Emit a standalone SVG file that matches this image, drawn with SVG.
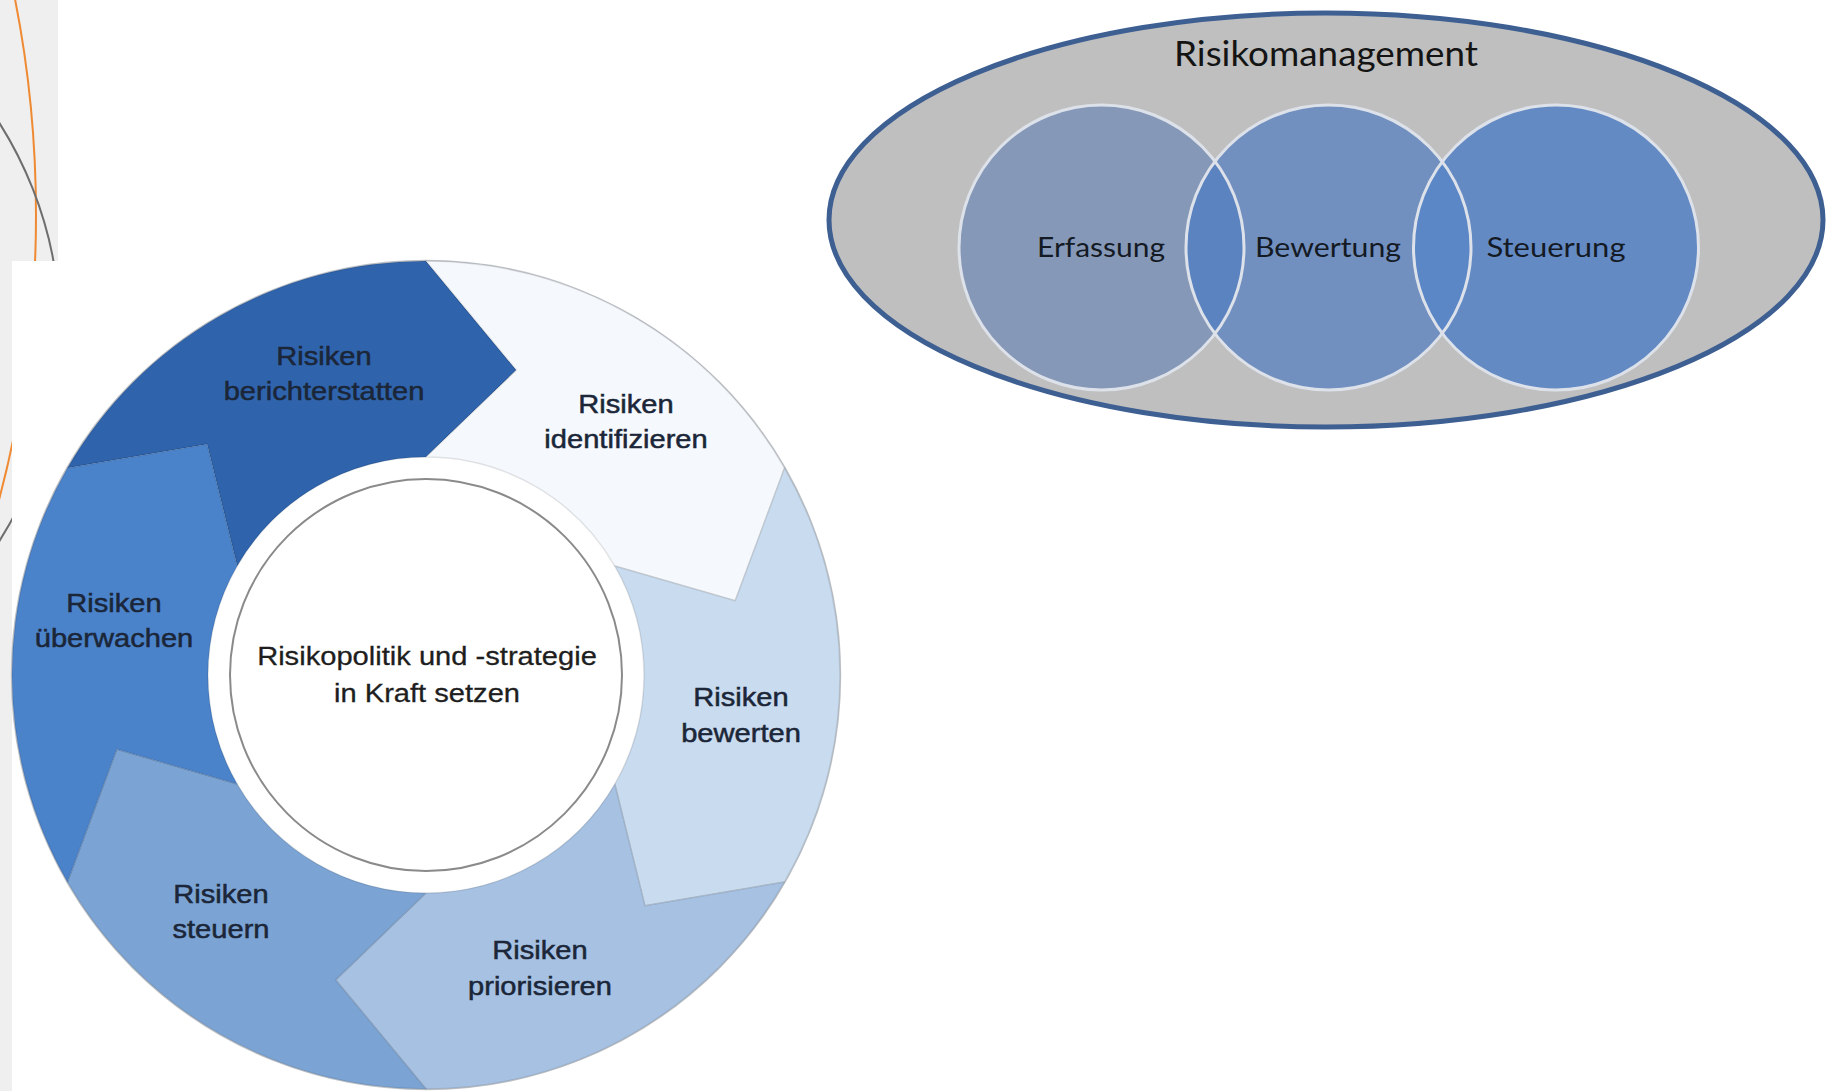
<svg xmlns="http://www.w3.org/2000/svg" width="1827" height="1091" viewBox="0 0 1827 1091">
  <style>
    .seg { stroke: rgba(0,0,0,0.10); stroke-width: 1.5; stroke-linejoin: round; }
    .lbl { font-family: "Liberation Sans", Arial, sans-serif; font-size: 26px; fill: #1b2638; stroke: #1b2638; stroke-width: 0.5; text-anchor: middle; }
    .ctr { font-family: "Liberation Sans", Arial, sans-serif; font-size: 26px; fill: #1e1e1e; stroke: #1e1e1e; stroke-width: 0.3; text-anchor: middle; }
    .vlbl { font-family: Lato, "Open Sans", sans-serif; font-size: 27px; fill: #141a24; text-anchor: middle; }
    .vtitle { font-family: Lato, "Open Sans", sans-serif; font-size: 34px; fill: #141414; text-anchor: middle; }
    .vcirc { stroke: #dde2ea; stroke-width: 3; }
  </style>
  <defs>
    <clipPath id="clipE"><circle cx="1101.5" cy="247.5" r="142.5"/></clipPath>
    <clipPath id="clipS"><circle cx="1556" cy="247.5" r="142.5"/></clipPath>
  </defs>

  <!-- background -->
  <rect x="0" y="0" width="1827" height="1091" fill="#ffffff"/>
  <rect x="0" y="0" width="58" height="1091" fill="#efefef"/>
  <circle cx="-1075" cy="215" r="1111" fill="none" stroke="#ef8a33" stroke-width="2"/>
  <circle cx="-330" cy="332" r="390" fill="none" stroke="#6e6e6e" stroke-width="2"/>
  <rect x="12" y="261" width="860" height="830" fill="#ffffff"/>

  <!-- cycle diagram -->
  <g id="cycle">
    <circle cx="426" cy="675" r="414" fill="#ffffff" stroke="#c6cacf" stroke-width="2.5"/>
    <g id="node-berichterstatten">
      <path class="seg" fill="#2f64ad" d="M 67.46,468 A 414 414 0 0 1 426,261 L 516.32,370.10 L 426,457 A 218 218 0 0 0 237.21,566 L 207.10,444.33 Z"/>
      <text class="lbl" transform="translate(324,0) scale(1.12,1)"><tspan x="0" y="365">Risiken</tspan><tspan x="0" y="400">berichterstatten</tspan></text>
    </g>
    <g id="node-identifizieren">
      <path class="seg" fill="#f5f8fc" d="M 426,261 A 414 414 0 0 1 784.54,468 L 735.21,600.76 L 614.79,566 A 218 218 0 0 0 426,457 L 516.32,370.10 Z"/>
      <text class="lbl" transform="translate(626,0) scale(1.12,1)"><tspan x="0" y="413">Risiken</tspan><tspan x="0" y="448">identifizieren</tspan></text>
    </g>
    <g id="node-bewerten">
      <path class="seg" fill="#c9dbee" d="M 784.54,468 A 414 414 0 0 1 784.54,882 L 644.90,905.67 L 614.79,784 A 218 218 0 0 0 614.79,566 L 735.21,600.76 Z"/>
      <text class="lbl" transform="translate(741,0) scale(1.12,1)"><tspan x="0" y="706">Risiken</tspan><tspan x="0" y="742">bewerten</tspan></text>
    </g>
    <g id="node-priorisieren">
      <path class="seg" fill="#a6c1e2" d="M 784.54,882 A 414 414 0 0 1 426,1089 L 335.68,979.90 L 426,893 A 218 218 0 0 0 614.79,784 L 644.90,905.67 Z"/>
      <text class="lbl" transform="translate(540,0) scale(1.12,1)"><tspan x="0" y="959">Risiken</tspan><tspan x="0" y="995">priorisieren</tspan></text>
    </g>
    <g id="node-steuern">
      <path class="seg" fill="#7ba4d4" d="M 426,1089 A 414 414 0 0 1 67.46,882 L 116.79,749.24 L 237.21,784 A 218 218 0 0 0 426,893 L 335.68,979.90 Z"/>
      <text class="lbl" transform="translate(221,0) scale(1.12,1)"><tspan x="0" y="903">Risiken</tspan><tspan x="0" y="938">steuern</tspan></text>
    </g>
    <g id="node-ueberwachen">
      <path class="seg" fill="#4b83cb" d="M 67.46,882 A 414 414 0 0 1 67.46,468 L 207.10,444.33 L 237.21,566 A 218 218 0 0 0 237.21,784 L 116.79,749.24 Z"/>
      <text class="lbl" transform="translate(114,0) scale(1.12,1)"><tspan x="0" y="612">Risiken</tspan><tspan x="0" y="647">überwachen</tspan></text>
    </g>
    <g id="node-center">
      <circle cx="426" cy="675" r="196" fill="#ffffff" stroke="#8a8a8a" stroke-width="2"/>
      <text class="ctr" transform="translate(427,0) scale(1.12,1)"><tspan x="0" y="665">Risikopolitik und -strategie</tspan><tspan x="0" y="702">in Kraft setzen</tspan></text>
    </g>
  </g>

  <!-- Venn diagram -->
  <g id="node-risikomanagement">
    <ellipse cx="1326" cy="220" rx="497" ry="207" fill="#bfbfbf" stroke="#3e5f92" stroke-width="5"/>
    <text class="vtitle" x="1326" y="66" textLength="304" lengthAdjust="spacingAndGlyphs">Risikomanagement</text>
  </g>
  <g id="node-erfassung">
    <circle cx="1101.5" cy="247.5" r="142.5" fill="#8698b7"/>
  </g>
  <g id="node-bewertung">
    <circle cx="1328.5" cy="247.5" r="142.5" fill="#7290bf"/>
    <circle cx="1328.5" cy="247.5" r="142.5" fill="#5b83c0" clip-path="url(#clipE)"/>
  </g>
  <g id="node-steuerung">
    <circle cx="1556" cy="247.5" r="142.5" fill="#648ac4"/>
    <circle cx="1328.5" cy="247.5" r="142.5" fill="#5b87c6" clip-path="url(#clipS)"/>
  </g>
  <g id="venn-outlines" fill="none">
    <circle class="vcirc" cx="1101.5" cy="247.5" r="142.5"/>
    <circle class="vcirc" cx="1328.5" cy="247.5" r="142.5"/>
    <circle class="vcirc" cx="1556" cy="247.5" r="142.5"/>
  </g>
  <g id="venn-labels">
    <text class="vlbl" x="1101" y="257" textLength="128" lengthAdjust="spacingAndGlyphs">Erfassung</text>
    <text class="vlbl" x="1328" y="257" textLength="146" lengthAdjust="spacingAndGlyphs">Bewertung</text>
    <text class="vlbl" x="1556" y="257" textLength="139" lengthAdjust="spacingAndGlyphs">Steuerung</text>
  </g>

  <g id="connectors"/>
</svg>
